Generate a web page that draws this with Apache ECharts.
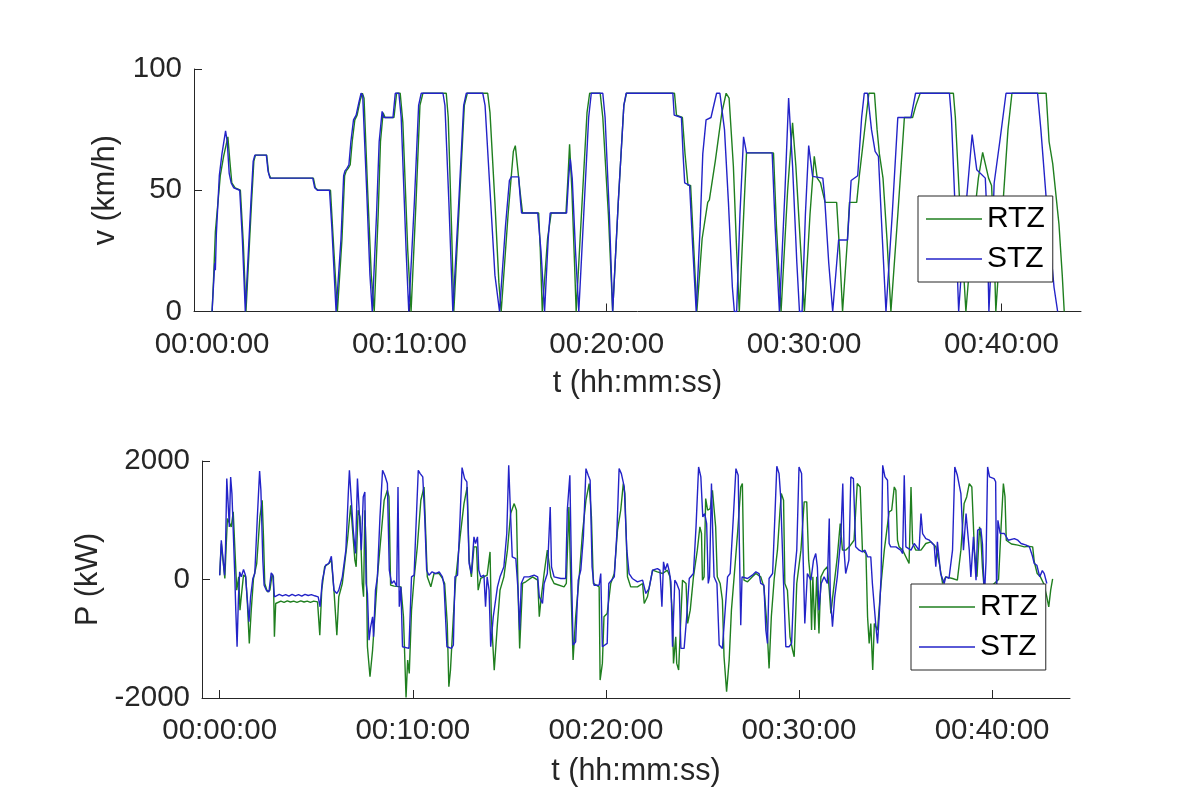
<!DOCTYPE html>
<html>
<head>
<meta charset="utf-8">
<script src="https://cdn.jsdelivr.net/npm/echarts@6/dist/echarts.min.js"></script>
<style>
  html, body { margin: 0; padding: 0; background: #fff; }
  #chart { width: 1200px; height: 800px; }
</style>
</head>
<body>
<div id="chart"></div>
<script>
// time in seconds, speed in km/h, power in kW  [t, value]
var speedRTZ = [[0,0],[5,15],[10,33],[14,33],[25,56],[35,64],[48,72],[54,62],[60,53],[70,51],[86,50],[95,28],[103,0],[108,0],
  [120,45],[127,62],[132,64.5],[166,64.5],[172,57],[178,55],[308,55],[314,51],[322,50],[360,50],[367,33],[381,0],[385,0],
  [395,30],[403,56],[408,58],[414,59],[420,60.5],[426,70],[434,79],[441,81],[450,87],[457,90],[462,88],[473,50],[484,15],[493,0],[496,0],
  [505,40],[512,70],[520,82],[526,80],[553,80],[561,90],[572,90],[580,78],[595,25],[605,0],[608,0],
  [620,45],[632,85],[641,90],[712,90],[718,80],[728,35],[735,0],[740,0],[752,45],[767,85],[776,90],[838,90],[845,82],[860,45],[872,12],[879,0],[885,0],
  [900,40],[916,66],[922,68.4],[930,58],[936,50],[944,40.6],[993,40.6],[998,25],[1004,0],[1010,0],[1020,30],[1031,40.6],[1076,40.6],[1082,55],[1087,69],[1094,50],[1102,20],[1107,0],[1111,0],
  [1125,45],[1140,82],[1148,90],[1180,90],[1188,80],[1205,40],[1218,0],[1222,0],[1235,45],[1252,85],[1260,90],[1406,90],[1412,81],[1430,80],[1438,65],[1447,52],[1455,52],[1465,25],[1474,0],[1478,0],
  [1490,30],[1507,45],[1512,46],[1530,62],[1550,82],[1563,90],[1572,88],[1585,60],[1595,25],[1603,0],[1608,0],[1618,45],[1625,65.4],[1707,65.4],[1716,35],[1730,0],[1735,0],
  [1750,50],[1765,77.8],[1775,60],[1790,25],[1801,0],[1806,0],[1818,40],[1831,64],[1840,55],[1850,53],[1864,45],[1899,45],[1908,25],[1917,0],[1922,0],
  [1932,30],[1938,45],[1960,45],[1968,56],[1980,70],[1997,90],[2014,90],[2022,75],[2029,65],[2040,55],[2052,30],[2064,0],[2068,0],
  [2085,40],[2105,80],[2130,80],[2140,85],[2153,90],[2254,90],[2260,80],[2275,40],[2292,0],[2297,0],[2310,30],[2330,55],[2343,65.6],[2361,55],[2370,52],[2376,35],[2383,0],[2388,0],
  [2400,35],[2420,75],[2432,90],[2536,90],[2545,70],[2556,61],[2575,36],[2585,15],[2591,0]];

var speedSTZ = [[0,0],[8,20],[10,17],[13,32],[22,56],[30,65],[41,74.5],[46,70],[52,57],[58,53],[66,51],[84,50],[92,30],[101,0],[107,0],
  [118,45],[125,62],[130,64.5],[165,64.5],[170,58],[176,55],[306,55],[312,51],[320,50],[357,50],[364,35],[377,0],[382,0],
  [392,30],[400,56],[404,58],[410,59],[416,60.5],[422,70],[430,79],[438,81],[446,86],[453,90],[458,89],[470,50],[480,15],[487,0],[491,0],
  [500,40],[508,70],[517,82.5],[522,80],[550,80],[557,90],[568,90],[575,80],[590,25],[598,0],[603,0],
  [615,45],[628,85],[636,90],[702,90],[708,85],[720,45],[732,0],[738,0],[750,45],[765,85],[773,90],[823,90],[830,85],[845,50],[860,15],[874,0],[880,0],
  [892,35],[904,54],[910,55.5],[932,55.5],[938,45],[941,40.6],[990,40.6],[1000,25],[1011,0],[1016,0],[1022,30],[1028,40.6],[1078,40.6],[1084,55],[1089,63],[1095,55],[1105,25],[1115,0],[1119,0],
  [1130,40],[1145,80],[1153,90],[1188,90],[1195,80],[1208,40],[1218,0],[1222,0],[1235,45],[1252,85],[1259,90],[1401,90],[1405,81],[1427,80],[1432,65],[1437,53],[1452,52],[1462,25],[1472,0],[1477,0],
  [1484,35],[1492,65],[1502,79],[1517,80],[1522,83],[1534,90],[1544,90],[1558,75],[1570,45],[1582,10],[1588,0],[1595,0],[1605,40],[1616,72],[1625,65.4],[1703,65.4],[1712,35],[1725,0],[1730,0],
  [1742,50],[1753,88],[1765,60],[1778,20],[1786,0],[1794,0],[1804,40],[1814,68.4],[1826,55.7],[1857,55],[1862,48],[1875,20],[1887,0],[1892,0],
  [1905,29.5],[1932,29.5],[1943,54],[1963,56],[1975,80],[1983,90],[1993,90],[2005,75],[2016,66],[2026,64],[2038,30],[2049,0],[2054,0],
  [2068,40],[2085,80],[2125,80],[2132,85],[2139,90],[2242,90],[2248,80],[2260,40],[2270,0],[2275,0],[2290,40],[2311,73],[2325,58.5],[2351,55],[2356,40],[2362,0],[2367,0],
  [2372,30],[2378,53],[2395,70],[2414,90],[2510,90],[2520,75],[2540,40],[2560,10],[2571,0]];

var powerRTZ = [[0,73],[5,607],[11,607],[16,17],[20,551],[24,1028],[30,1000],[36,888],[42,1141],[47,1113],[53,-180],[59,45],[63,-517],[67,-292],[74,73],[81,45],
  [86,-405],[92,-1079],[98,-517],[105,17],[115,270],[125,1057],[132,1338],[136,719],[140,-67],[148,-208],[156,-180],[163,90],[167,45],[170,-967],[174,-405],
  [179,-377],[190,-365],[200,-385],[210,-360],[220,-380],[230,-365],[240,-385],[252,-360],[262,-380],[272,-365],[282,-385],[292,-365],[304,-377],
  [311,-939],[317,-180],[326,214],[339,270],[347,326],[355,-180],[364,-939],[370,-292],[381,-67],[397,663],[407,1253],[413,1225],[420,326],[424,214],
  [430,1169],[436,1057],[443,-67],[447,-292],[451,1169],[455,495],[459,-1135],[467,-1641],[475,-1191],[482,-629],[490,45],[501,719],[511,1338],[521,1506],
  [526,1394],[531,-96],[542,-112],[563,-124],[571,-629],[579,-1990],[584,-1360],[589,-1585],[596,-517],[604,17],[614,551],[625,1338],[635,1562],[639,1590],
  [645,45],[656,-124],[666,101],[682,101],[692,17],[699,-67],[707,-742],[712,-1810],[717,-1529],[726,-629],[733,-11],[747,719],[759,1281],[769,1562],
  [775,326],[782,45],[790,551],[798,551],[803,-180],[811,17],[831,73],[840,466],[844,-629],[853,-1529],[863,-742],[871,-180],[883,45],[894,495],
  [904,1113],[915,1281],[922,1169],[927,-180],[932,-1163],[941,-67],[951,-39],[972,45],[988,-11],[993,-629],[998,-348],[1008,101],[1018,495],[1029,45],
  [1039,-67],[1070,-124],[1077,-67],[1085,1225],[1091,-67],[1098,-1360],[1106,-629],[1117,45],[1127,776],[1138,1338],[1148,1619],[1155,1057],[1161,-67],
  [1179,-124],[1182,-1697],[1189,-1416],[1194,-629],[1204,-573],[1215,-67],[1226,101],[1236,832],[1246,1169],[1254,1619],[1259,1450],[1267,45],[1277,-124],
  [1298,-124],[1314,-67],[1319,-405],[1329,-292],[1345,157],[1360,129],[1376,101],[1391,157],[1399,45],[1407,-629],[1410,-1416],[1417,-967],[1420,-1416],
  [1426,-1529],[1433,-629],[1438,-11],[1443,-11],[1449,-67],[1454,-742],[1462,-517],[1472,45],[1484,495],[1492,888],[1497,776],[1500,-11],[1505,45],
  [1510,1366],[1516,1169],[1524,1197],[1531,1506],[1536,1534],[1541,888],[1546,45],[1555,-67],[1562,-348],[1567,-1304],[1575,-1894],[1583,-1360],[1590,-517],
  [1598,17],[1609,776],[1619,1562],[1624,1619],[1629,-11],[1640,-39],[1655,45],[1666,101],[1681,45],[1691,-124],[1700,-742],[1707,-1500],[1714,-629],
  [1723,17],[1733,495],[1741,1169],[1745,1450],[1752,1338],[1756,-67],[1764,-180],[1772,-967],[1780,-1191],[1785,-1304],[1793,-67],[1806,495],[1816,1310],
  [1824,1310],[1830,326],[1835,45],[1839,-854],[1843,45],[1849,-854],[1855,45],[1862,-910],[1868,45],[1878,157],[1888,214],[1894,-180],[1899,-573],
  [1907,-180],[1919,382],[1928,944],[1935,495],[1945,495],[1956,551],[1971,663],[1981,1619],[1990,1562],[1997,495],[2008,438],[2013,-629],[2018,-1079],
  [2023,-742],[2029,-1529],[2034,-742],[2044,-854],[2055,-67],[2065,495],[2080,1141],[2088,1169],[2096,1562],[2101,1506],[2106,663],[2111,551],[2122,495],
  [2142,270],[2148,1562],[2153,607],[2163,495],[2179,495],[2194,607],[2210,635],[2225,551],[2236,270],[2246,-67],[2256,45],[2277,17],[2292,-11],[2303,495],
  [2313,1281],[2321,1394],[2329,1619],[2337,1562],[2345,495],[2353,45],[2361,888],[2365,719],[2370,200],[2376,-200],[2400,-100],[2420,0],[2428,900],
  [2435,1619],[2440,1400],[2444,663],[2460,600],[2480,580],[2500,551],[2515,560],[2526,551],[2531,300],[2540,101],[2550,45],[2560,-67],[2570,-292],
  [2576,-461],[2582,-180],[2588,11]];

var powerSTZ = [[0,73],[5,663],[11,635],[15,73],[18,495],[22,1703],[26,1675],[30,888],[34,1731],[38,1450],[42,832],[47,45],[50,-517],[54,-1135],[58,-348],
  [62,129],[67,45],[74,169],[80,73],[86,-348],[91,-714],[96,-292],[103,17],[109,101],[117,1057],[124,1832],[128,1506],[134,326],[138,-96],[145,-180],
  [153,-208],[160,112],[165,73],[170,-292],[175,-264],[185,-250],[195,-275],[205,-255],[215,-280],[225,-250],[235,-275],[245,-255],[255,-280],[265,-250],
  [275,-270],[285,-255],[295,-275],[306,-292],[312,-461],[319,-11],[329,242],[339,270],[347,393],[355,-180],[364,-236],[370,-180],[381,45],[392,495],
  [400,1506],[403,1843],[409,1338],[415,832],[422,438],[428,1703],[434,1686],[440,495],[446,1394],[451,1478],[455,-67],[459,-236],[464,-1023],[469,-798],
  [475,-629],[478,-967],[484,-180],[490,45],[498,1057],[506,1843],[513,1759],[521,1619],[527,157],[534,-67],[542,-22],[550,-124],[554,1562],[558,-461],
  [563,-124],[568,-1135],[573,-1163],[588,-1163],[596,45],[604,73],[609,776],[617,1843],[623,1787],[631,1731],[637,1057],[643,157],[650,73],[660,129],
  [671,101],[682,129],[692,45],[697,-96],[702,-67],[706,-1135],[720,-1163],[726,-1107],[731,45],[739,73],[747,1057],[753,1888],[761,1703],[768,1647],
  [775,270],[782,101],[790,719],[795,607],[801,719],[805,157],[811,45],[821,73],[826,-461],[831,45],[837,-180],[842,-1135],[850,-629],[863,-124],[871,45],
  [883,214],[892,776],[898,1928],[904,1057],[909,382],[915,354],[920,354],[927,-180],[932,-854],[937,-67],[946,45],[961,45],[977,73],[988,45],[993,-292],
  [998,-348],[1003,-405],[1008,-67],[1018,101],[1027,1225],[1031,214],[1039,45],[1060,17],[1075,17],[1080,1169],[1088,1759],[1093,157],[1098,-1107],
  [1106,-1051],[1114,-11],[1122,157],[1130,719],[1138,1871],[1145,1759],[1151,1675],[1157,214],[1163,-96],[1179,-96],[1184,101],[1189,-1135],[1204,-1079],
  [1209,-67],[1226,45],[1234,776],[1241,1871],[1248,1787],[1257,1562],[1265,495],[1272,101],[1282,17],[1298,-39],[1314,-11],[1324,-236],[1334,-152],
  [1345,157],[1360,185],[1368,157],[1374,-461],[1379,298],[1384,157],[1391,270],[1396,157],[1402,-39],[1407,-1135],[1414,-11],[1420,-67],[1428,-180],
  [1433,-1163],[1443,-1163],[1451,-629],[1459,17],[1472,101],[1480,888],[1488,1900],[1495,1731],[1501,1057],[1507,1113],[1513,944],[1518,-67],[1522,45],
  [1528,1619],[1532,776],[1536,45],[1545,-67],[1552,-1107],[1562,-1163],[1567,-1135],[1578,45],[1586,101],[1596,1057],[1604,1871],[1611,1759],[1615,495],
  [1619,-770],[1623,45],[1629,17],[1640,17],[1655,73],[1666,129],[1676,101],[1681,-67],[1691,-96],[1697,-854],[1702,-1079],[1707,17],[1718,101],[1725,1057],
  [1731,1911],[1738,1787],[1743,1394],[1752,-67],[1759,-1135],[1769,-1135],[1777,-1079],[1785,45],[1793,495],[1800,1900],[1808,1787],[1813,326],[1818,-742],
  [1826,101],[1837,-11],[1845,326],[1852,438],[1857,214],[1862,-517],[1869,-67],[1878,45],[1888,-67],[1894,1028],[1897,-236],[1904,-798],[1911,-292],
  [1919,45],[1930,719],[1936,1619],[1940,495],[1945,101],[1955,326],[1961,1731],[1969,1703],[1976,551],[1987,495],[1997,466],[2005,495],[2013,382],
  [2023,382],[2028,-67],[2039,-798],[2044,-1079],[2049,-629],[2055,45],[2060,1928],[2067,1731],[2075,1675],[2080,607],[2085,551],[2101,551],[2116,495],
  [2122,438],[2127,1759],[2132,551],[2148,495],[2158,607],[2173,495],[2179,1113],[2184,776],[2194,691],[2205,663],[2220,579],[2225,214],[2230,635],
  [2240,101],[2251,-67],[2256,45],[2266,17],[2277,495],[2284,1900],[2292,1759],[2303,1450],[2311,495],[2319,1113],[2324,1141],[2329,495],[2334,45],
  [2342,719],[2350,-11],[2355,832],[2365,860],[2370,600],[2376,-300],[2381,300],[2386,1900],[2392,1731],[2406,1703],[2411,1650],[2414,-300],[2418,1000],
  [2425,780],[2438,776],[2450,663],[2469,691],[2480,663],[2490,607],[2506,579],[2516,551],[2525,400],[2531,270],[2539,240],[2548,45],[2556,150],
  [2562,100],[2570,-67]];

var tickSeconds = [0, 600, 1200, 1800, 2400];
var seriesNames = ['RTZ', 'STZ'];
var seriesColors = ['#1f7f1f', '#2323c8'];

var FONT = 'Liberation Sans';
var INK = '#262626';

function hms(sec) {
  var h = Math.floor(sec / 3600), m = Math.floor((sec % 3600) / 60), s = Math.round(sec % 60);
  function p(n) { return (n < 10 ? '0' : '') + n; }
  return p(h) + ':' + p(m) + ':' + p(s);
}

function xAxisFor(gridIndex, gap) {
  return {
    gridIndex: gridIndex, type: 'value', min: -55, max: 2642,
    name: 't (hh:mm:ss)', nameLocation: 'middle', nameGap: gap,
    nameTextStyle: { fontFamily: FONT, fontSize: 30.5, color: INK },
    axisLine: { onZero: false, lineStyle: { color: INK, width: 1 } },
    axisTick: { inside: true, length: 8, customValues: tickSeconds, lineStyle: { color: INK } },
    axisLabel: { customValues: tickSeconds, formatter: hms, fontFamily: FONT, fontSize: 29.5, color: INK, margin: 18 },
    splitLine: { show: false }
  };
}

function yAxisFor(gridIndex, name, min, max, interval, gap) {
  return {
    gridIndex: gridIndex, type: 'value', min: min, max: max, interval: interval,
    name: name, nameLocation: 'middle', nameGap: gap, nameRotate: 90,
    nameTextStyle: { fontFamily: FONT, fontSize: 30.5, color: INK },
    axisLine: { show: true, onZero: false, lineStyle: { color: INK, width: 1 } },
    axisTick: { show: true, inside: true, length: 8, lineStyle: { color: INK } },
    axisLabel: { fontFamily: FONT, fontSize: 29.5, color: INK, margin: 12,
      formatter: function (v) { return String(v); } },
    splitLine: { show: false }
  };
}

function legendAt(left, top) {
  return {
    orient: 'vertical', left: left, top: top, data: seriesNames,
    icon: 'rect', itemWidth: 56, itemHeight: 1.5, itemGap: 10,
    padding: [8, 8, 8, 8], borderColor: INK, borderWidth: 1, borderRadius: 0,
    backgroundColor: '#fff', selectedMode: false,
    textStyle: { fontFamily: FONT, fontSize: 30, color: '#000' }
  };
}

function lineSeries(name, data, xi, yi, color) {
  return {
    name: name, type: 'line', data: data, xAxisIndex: xi, yAxisIndex: yi,
    showSymbol: false, symbol: 'none', color: color,
    lineStyle: { color: color, width: 1.4 }, itemStyle: { color: color }
  };
}

var myChart = echarts.init(document.getElementById('chart'));
var option = {
  animation: false,
  backgroundColor: '#fff',
  grid: [
    { left: 194, top: 69, width: 887, height: 242.5 },
    { left: 202, top: 461, width: 868, height: 237 }
  ],
  legend: [legendAt(918, 196), legendAt(911, 584)],
  xAxis: [xAxisFor(0, 57), xAxisFor(1, 58)],
  yAxis: [
    yAxisFor(0, 'v (km/h)', 0, 100, 50, 73),
    yAxisFor(1, 'P (kW)', -2000, 2000, 2000, 86)
  ],
  series: [
    lineSeries(seriesNames[0], speedRTZ, 0, 0, seriesColors[0]),
    lineSeries(seriesNames[1], speedSTZ, 0, 0, seriesColors[1]),
    lineSeries(seriesNames[0], powerRTZ, 1, 1, seriesColors[0]),
    lineSeries(seriesNames[1], powerSTZ, 1, 1, seriesColors[1])
  ]
};
myChart.setOption(option);
</script>
</body>
</html>
